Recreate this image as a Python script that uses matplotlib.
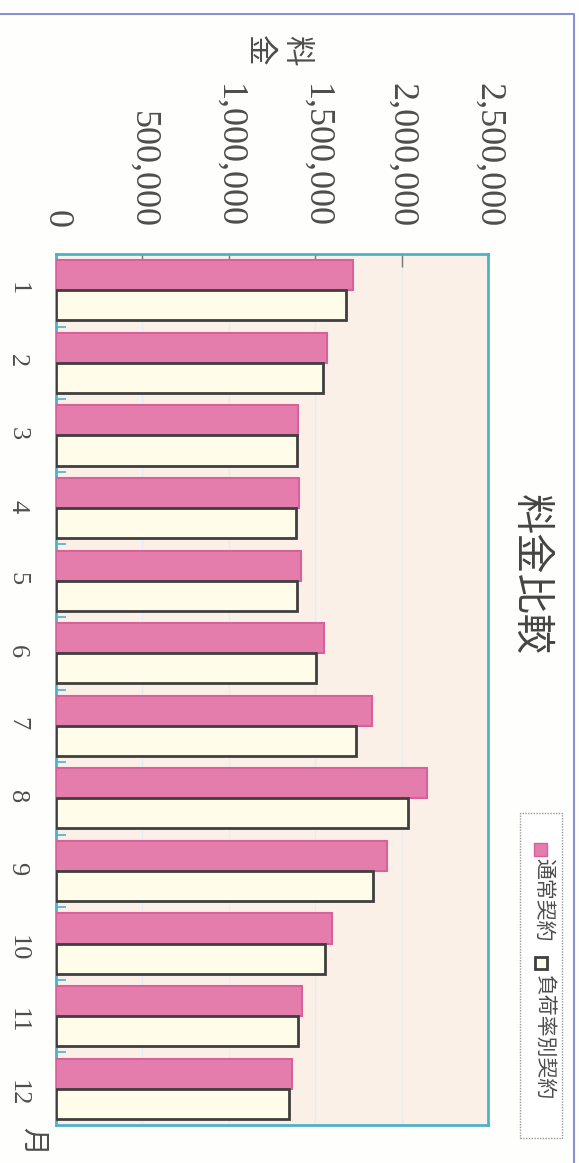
import numpy as np
import matplotlib.pyplot as plt
from matplotlib.patches import Rectangle
from matplotlib.lines import Line2D
from matplotlib.ticker import FuncFormatter

# monthly charges (yen)
months = [str(m) for m in range(1, 13)]
normal = [1719000, 1570000, 1399000, 1405000, 1419000, 1550000,
          1826000, 2149000, 1917000, 1599000, 1424000, 1366000]
load_rate = [1680000, 1545000, 1395000, 1386000, 1393000, 1506000,
             1738000, 2039000, 1835000, 1554000, 1399000, 1351000]
series_names = ['通常契約', '負荷率別契約']
x_ticks = [0, 500000, 1000000, 1500000, 2000000, 2500000]

cjk = ['Noto Sans CJK JP', 'DejaVu Sans']
serif = 'Liberation Serif'
pink, pink_edge = '#e47dac', '#d9609a'
cream, cream_edge = '#fffdea', '#3f3f3f'
teal = '#4eb2c6'
txt = '#4d4d4d'

W, H = 579, 1163
fig = plt.figure(figsize=(W / 100, H / 100), dpi=100)
fig.patch.set_facecolor('#fefefc')

def fx(px):
    return px / W

def fy(py):
    return 1 - py / H

# plot area (chart is printed rotated 90 degrees clockwise)
ax = fig.add_axes([fx(56), fy(1125), fx(488) - fx(56), fy(254) - fy(1125)])
ax.set_facecolor('#fbf0e8')

pos = np.arange(1, len(months) + 1)
h = 0.415
ax.barh(pos - h / 2, normal, height=h, color=pink, edgecolor=pink_edge,
        linewidth=1.5, zorder=3)
ax.barh(pos + h / 2, load_rate, height=h, color=cream, edgecolor=cream_edge,
        linewidth=2, zorder=3)

ax.set_xlim(0, 2500000)
ax.set_ylim(12.5, 0.5)

ax.xaxis.tick_top()
ax.set_xticks(x_ticks)
ax.xaxis.set_major_formatter(FuncFormatter(lambda v, p: f'{int(v):,}'))
ax.tick_params(axis='x', which='major', direction='in', length=9, width=1,
               color='#777777', pad=19, labelrotation=-90, labelsize=26,
               labelcolor=txt)
for lab in ax.get_xticklabels():
    lab.set_fontfamily(serif)
ax.grid(axis='x', color='#e6ecf2', linewidth=1, zorder=0)

ax.set_yticks(pos)
ax.set_yticklabels(months)
ax.yaxis.set_minor_locator(plt.FixedLocator(np.arange(1.5, 12.5, 1)))
ax.tick_params(axis='y', which='major', length=0, pad=20, labelrotation=-90,
               labelsize=19, labelcolor=txt)
ax.tick_params(axis='y', which='minor', direction='in', length=7, width=1.2,
               color=teal)
for lab in ax.get_yticklabels():
    lab.set_fontfamily(serif)

for s in ax.spines.values():
    s.set_color(teal)
    s.set_linewidth(2)

# title and axis captions
fig.text(fx(530), fy(575), '料金比較', rotation=-90, fontsize=29,
         family=cjk, color='#444444', ha='center', va='center')
fig.text(fx(277), fy(50), '料\n金', rotation=-90, fontsize=22,
         family=cjk, color=txt, ha='center', va='center', linespacing=1.25)
fig.text(fx(33), fy(1141), '月', rotation=-90, fontsize=20,
         family=cjk, color=txt, ha='center', va='center')

# legend box, drawn by hand so it can be rotated
fig.patches.append(Rectangle((fx(520), fy(1138)), fx(562) - fx(520),
                             fy(813) - fy(1138), transform=fig.transFigure,
                             facecolor='white', edgecolor='#999999',
                             linewidth=1, linestyle=(0, (1, 1))))
sq = 13
fig.patches.append(Rectangle((fx(534), fy(856)), fx(sq), sq / H,
                             transform=fig.transFigure, facecolor=pink,
                             edgecolor=pink_edge, linewidth=1))
fig.patches.append(Rectangle((fx(535), fy(969)), fx(sq - 1), (sq - 1) / H,
                             transform=fig.transFigure, facecolor=cream,
                             edgecolor=cream_edge, linewidth=2))
fig.text(fx(544), fy(858), series_names[0], rotation=-90, fontsize=15,
         family=cjk, color=txt, ha='center', va='top')
fig.text(fx(544), fy(975), series_names[1], rotation=-90, fontsize=15,
         family=cjk, color=txt, ha='center', va='top')

# outer chart frame (top and right edges visible)
fig.lines.append(Line2D([0, fx(574), fx(574)], [fy(14), fy(14), 0],
                        transform=fig.transFigure, color='#8a90d2',
                        linewidth=1.5))

fig.savefig('out.png', dpi=100, facecolor=fig.get_facecolor())
